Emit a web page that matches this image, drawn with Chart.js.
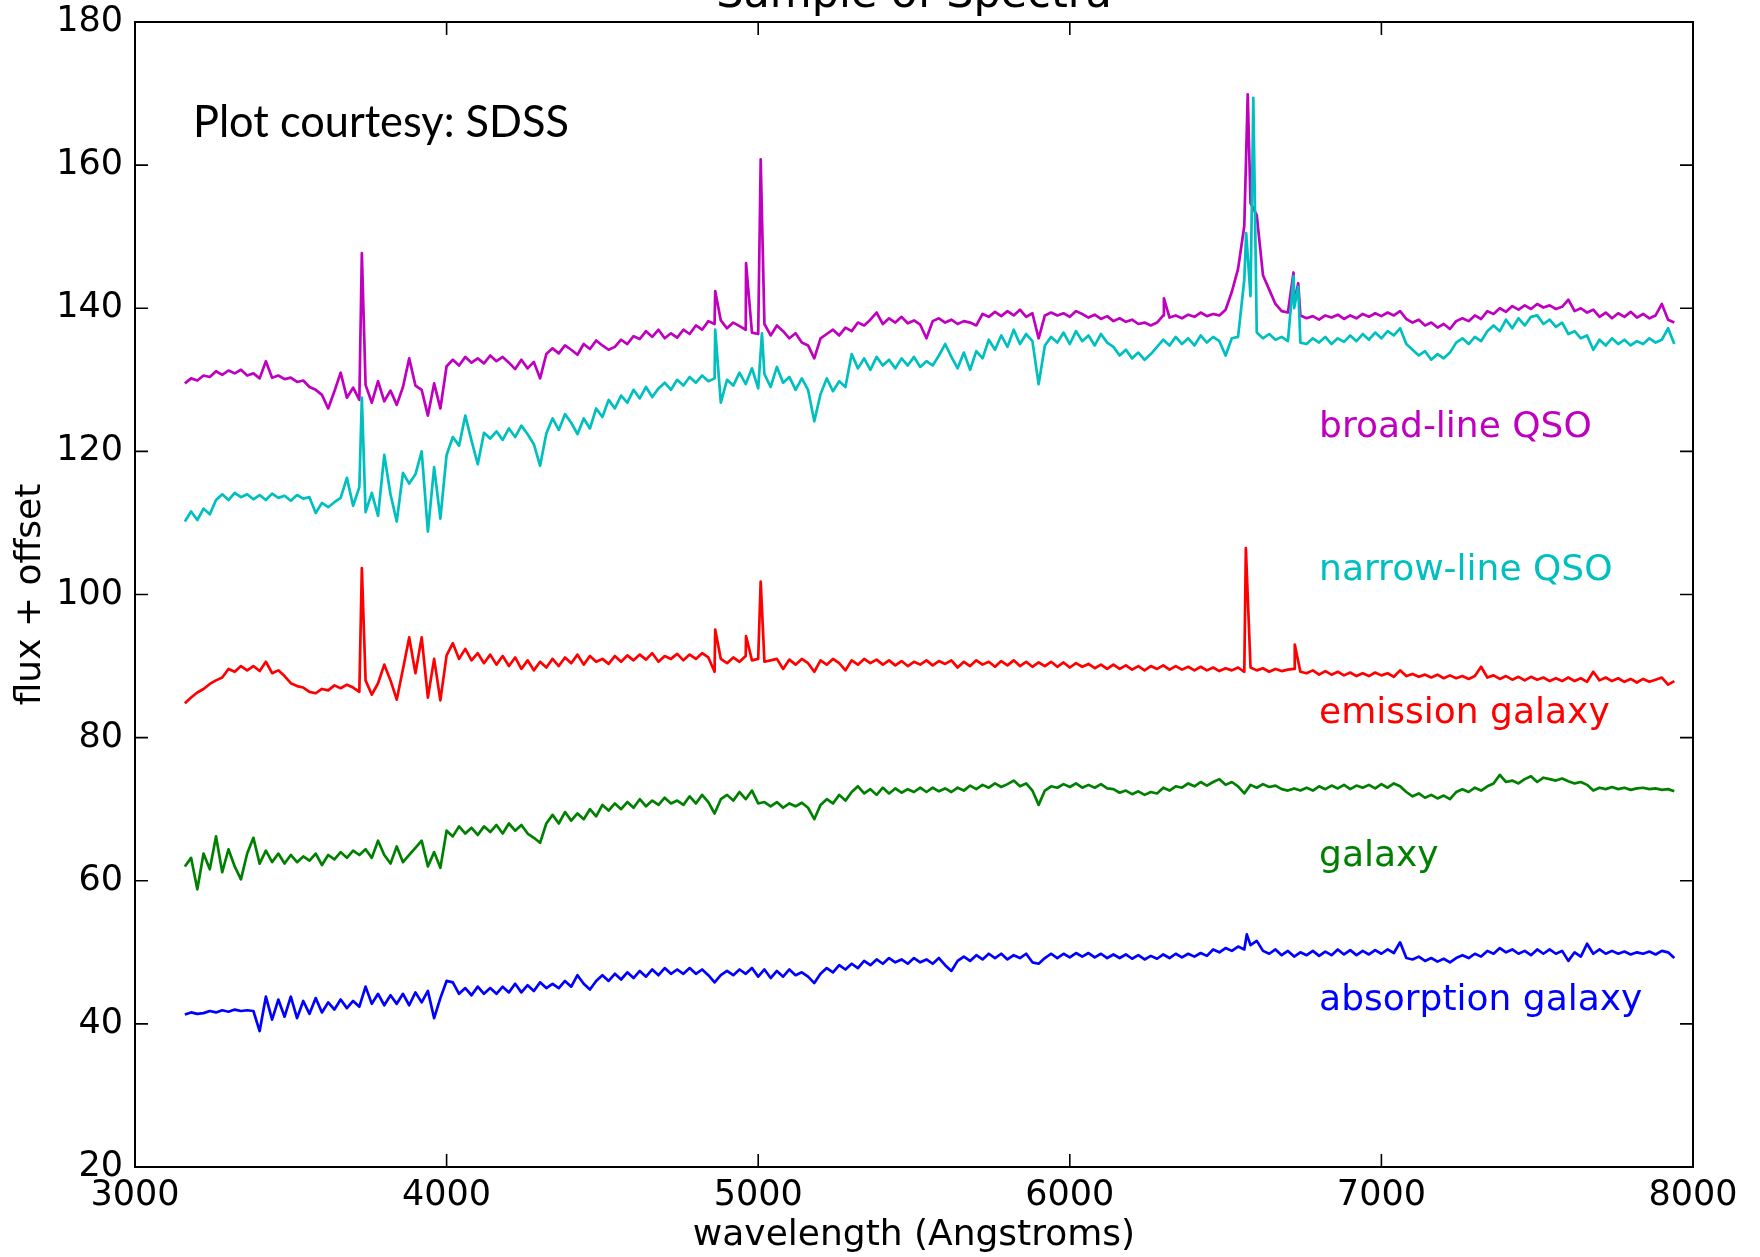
<!DOCTYPE html>
<html>
<head>
<meta charset="utf-8">
<script src="https://cdn.jsdelivr.net/npm/chart.js"></script>
<style>
  html, body { margin: 0; padding: 0; background: #fff; }
</style>
</head>
<body>
<canvas id="myChart" width="1760" height="1257"></canvas>
<script>
// wavelength sampling of the spectra (Angstroms), 3160 .. 7940 every 20
var waveStart = 3160, waveStep = 20, waveCount = 240;
var waves = [];
for (var i = 0; i < waveCount; i++) { waves.push(waveStart + i * waveStep); }

var xTicks = [3000, 4000, 5000, 6000, 7000, 8000];
var yTicks = [20, 40, 60, 80, 100, 120, 140, 160, 180];

var seriesNames = ['broad-line QSO', 'narrow-line QSO', 'emission galaxy', 'galaxy', 'absorption galaxy'];
var seriesColors = ['#bf00bf', '#00bfbf', '#ff0000', '#008000', '#0000ff'];
var labelY = [122, 102, 82, 62, 42];
var labelX = 6800;

// flux + offset, one row = 200 Angstroms
var broadQSO = [
  129.5,130.2,129.9,130.6,130.4,131.2,130.7,131.3,130.9,131.4,
  130.6,130.9,130.2,132.6,130.3,130.6,130.1,130.3,129.7,129.9,
  129.0,128.6,127.9,126.0,128.4,131.0,127.5,128.9,127.2,129.3,
  126.8,129.8,127.0,128.5,126.5,129.0,133.0,129.2,128.6,125.0,
  129.5,126.0,131.9,132.8,132.0,133.2,132.4,133.0,132.3,133.4,
  132.6,133.2,132.4,131.5,132.8,131.6,132.5,130.2,133.6,134.4,
  133.7,134.8,134.2,133.5,135.0,134.3,135.5,134.8,134.2,134.6,
  135.6,135.0,136.1,135.7,136.8,136.0,137.0,135.8,136.5,135.9,
  137.0,136.4,137.6,137.0,138.2,137.8,138.3,137.2,138.0,137.5,
  137.0,136.6,136.4,137.8,136.2,137.6,136.8,135.8,136.5,135.2,
  134.8,133.0,135.8,136.4,137.0,136.2,137.3,136.8,138.0,137.6,
  138.4,139.4,137.8,138.6,138.0,138.8,137.9,138.3,137.7,135.8,
  138.2,138.6,138.0,138.4,137.8,138.2,138.0,137.6,139.2,138.8,
  139.5,138.9,139.6,139.0,139.8,138.8,139.3,135.8,139.0,139.4,
  139.0,139.3,138.8,139.6,139.2,138.7,139.1,138.5,138.9,138.2,
  138.6,138.1,138.4,137.8,138.0,137.6,138.0,139.0,138.7,139.0,
  138.6,139.1,138.8,139.4,138.9,139.2,139.0,139.8,142.3,145.5,
  151.5,154.7,153.0,144.6,142.6,140.6,139.6,139.4,140.5,139.0,
  138.6,138.9,138.4,139.0,138.7,139.1,138.5,139.0,138.6,139.2,
  138.8,139.3,138.9,139.4,139.0,139.6,138.5,138.0,138.4,137.6,
  138.0,137.3,137.8,137.1,138.2,138.6,138.2,139.0,138.5,139.6,
  139.2,140.0,139.5,140.3,139.8,140.4,139.9,140.6,140.1,140.4,
  139.9,140.2,141.2,139.6,140.0,139.4,139.8,138.8,139.4,138.6,
  139.3,138.8,139.5,138.7,139.2,138.6,139.0,140.6,138.4,138.0
];
var narrowQSO = [
  110.2,111.6,110.4,112.0,111.2,113.2,114.0,113.2,114.2,113.6,
  114.0,113.3,113.9,113.2,114.1,113.5,113.8,113.1,113.9,113.4,
  113.6,111.4,112.8,112.2,112.9,113.5,116.3,112.4,115.0,111.5,
  114.2,111.0,119.5,114.0,110.2,117.0,115.5,116.8,120.0,108.8,
  117.8,110.6,119.5,122.0,120.8,125.0,121.5,118.2,122.6,121.8,
  122.8,121.6,123.2,122.0,123.6,122.4,121.0,118.0,122.5,124.6,
  123.0,125.2,124.0,122.4,124.6,123.2,126.0,124.8,127.2,126.0,
  127.8,126.8,128.6,127.4,129.0,127.6,128.8,129.6,128.6,130.0,
  129.2,130.4,129.6,130.6,129.8,130.2,126.8,130.0,129.2,131.0,
  129.4,131.6,128.8,130.8,129.0,131.8,129.6,130.4,128.6,130.2,
  128.6,124.2,128.0,130.2,128.4,129.8,129.0,133.6,131.6,133.0,
  131.4,133.2,132.0,132.8,131.6,133.0,132.0,133.2,131.8,132.6,
  132.0,133.4,135.0,133.2,131.6,133.8,131.4,134.0,133.0,135.6,
  134.2,136.2,134.6,137.0,135.0,136.4,135.4,129.4,134.8,136.0,
  135.2,136.6,135.0,136.8,135.4,136.2,134.8,136.4,135.2,134.6,
  133.4,134.2,133.0,133.8,132.8,133.6,134.6,135.6,134.8,136.0,
  135.0,135.8,134.8,136.2,135.2,136.0,135.4,133.4,135.8,136.0,
  144.0,141.7,136.6,135.8,136.4,135.6,136.0,135.4,140.0,135.2,
  135.0,135.8,135.2,136.0,135.0,135.8,135.3,136.2,135.4,136.4,
  135.6,136.6,135.8,136.8,136.2,137.2,135.0,134.2,133.4,134.0,
  132.8,133.6,133.0,133.8,135.2,135.8,135.0,136.0,135.4,136.8,
  137.6,136.8,138.4,137.2,138.6,137.6,138.8,139.0,137.8,138.4,
  137.4,138.0,136.4,136.8,135.8,136.2,134.2,135.6,134.8,135.8,
  135.0,135.6,134.8,135.4,135.0,135.8,135.2,135.6,137.2,135.0
];
var emissionGal = [
  84.8,85.6,86.3,86.8,87.5,88.0,88.4,89.6,89.2,90.0,
  89.4,90.0,89.3,90.6,89.0,89.4,88.6,87.6,87.2,87.0,
  86.4,86.2,86.8,86.6,87.3,86.9,87.4,87.0,86.4,88.0,
  86.0,87.6,90.2,88.0,85.3,89.6,94.0,89.0,94.0,85.6,
  91.0,85.2,91.5,93.2,91.0,92.4,90.8,91.8,90.4,91.6,
  90.2,91.4,90.0,91.2,89.6,90.8,89.4,90.6,89.8,91.0,
  90.0,91.2,90.4,91.6,90.2,91.4,90.6,91.0,90.3,91.4,
  90.6,91.5,90.8,91.6,90.9,91.8,90.6,91.4,91.0,91.7,
  90.8,91.6,91.0,91.8,91.2,89.2,91.0,90.4,91.2,90.6,
  91.4,90.8,91.0,90.6,90.8,91.0,89.6,90.9,90.2,91.0,
  90.4,89.2,90.8,90.2,91.0,90.4,89.4,90.8,90.2,91.0,
  90.4,90.9,90.2,90.8,90.1,90.7,90.0,90.6,90.2,90.8,
  90.1,90.7,90.3,90.8,89.8,90.6,90.0,90.8,90.2,90.6,
  89.9,90.7,90.1,90.8,90.0,90.6,89.9,90.5,90.0,90.6,
  89.9,90.5,89.8,90.4,89.9,90.3,89.7,90.2,89.6,90.2,
  89.6,90.1,89.5,90.0,89.4,90.0,89.6,90.1,89.5,90.0,
  89.5,89.9,89.4,89.9,89.4,89.8,89.3,89.7,89.4,89.8,
  89.2,89.8,89.4,89.7,89.2,89.6,89.3,89.5,89.6,89.2,
  89.0,89.4,88.8,89.3,88.8,89.2,88.7,89.1,88.6,89.0,
  88.6,89.1,88.7,89.0,88.5,89.4,88.6,88.9,88.5,88.8,
  88.4,88.8,88.3,88.7,88.3,88.6,88.2,88.6,89.9,88.4,
  88.7,88.2,88.6,88.1,88.5,88.0,88.5,88.1,88.4,87.9,
  88.3,87.9,88.4,87.9,88.3,87.8,89.2,88.0,88.4,87.9,
  88.3,87.8,88.2,87.7,88.2,87.8,88.1,88.4,87.4,87.9
];
var galaxy = [
  62.0,63.2,58.8,63.8,61.6,66.2,61.2,64.4,62.0,60.2,
  63.8,66.0,62.4,64.2,62.6,63.8,62.4,63.6,62.6,63.4,
  62.8,63.8,62.2,63.6,63.0,64.0,63.2,64.2,63.6,64.4,
  63.2,65.6,63.6,62.4,64.8,62.6,63.6,64.6,65.6,62.0,
  64.0,61.8,67.0,66.2,67.6,66.6,67.4,66.4,67.6,66.8,
  67.8,66.6,68.0,67.0,67.8,66.6,66.0,65.3,68.0,69.2,
  68.0,69.6,68.4,69.4,68.6,70.0,69.0,70.6,69.8,70.8,
  70.0,71.0,70.2,71.4,70.4,71.2,70.6,71.6,70.8,71.2,
  70.6,71.8,70.8,72.0,71.0,69.4,71.4,72.0,71.2,72.4,
  71.4,72.6,70.8,71.0,70.4,71.0,70.2,70.8,70.4,70.9,
  70.2,68.6,70.6,71.4,70.8,72.0,71.2,72.4,73.2,72.2,
  72.8,72.0,73.0,72.2,72.9,72.3,72.8,72.4,73.0,72.4,
  73.0,72.5,72.9,72.4,73.0,72.6,73.3,72.8,73.4,73.0,
  73.6,73.1,73.5,74.0,73.2,73.6,72.6,70.6,72.6,73.2,
  73.0,73.5,73.1,73.6,73.0,73.4,73.0,73.5,72.9,72.8,
  72.3,72.6,72.1,72.5,72.0,72.4,72.2,73.0,72.6,73.2,
  73.0,73.6,73.2,73.8,73.3,73.8,74.2,73.4,73.8,73.2,
  72.2,73.4,73.0,73.5,73.1,73.3,72.8,72.6,72.9,72.6,
  73.0,72.6,73.2,72.8,73.3,72.9,73.4,72.8,73.3,73.0,
  73.4,72.9,73.5,73.0,73.6,73.2,72.4,71.8,72.2,71.6,
  72.0,71.5,71.9,71.4,72.4,72.8,72.4,73.0,72.6,73.2,
  73.6,74.8,73.8,74.0,73.6,74.2,74.6,73.8,74.4,74.2,
  74.0,74.3,73.9,73.6,73.8,73.4,72.6,73.0,72.8,73.1,
  72.8,73.0,72.7,72.9,73.0,72.8,72.9,72.7,72.8,72.5
];
var absorptionGal = [
  41.3,41.6,41.4,41.5,41.8,41.6,41.9,41.7,42.0,41.8,
  41.9,41.8,39.0,43.8,40.6,43.4,41.0,43.8,40.8,43.2,
  41.4,43.6,41.6,43.0,42.0,43.4,42.2,43.2,42.4,45.2,
  42.8,44.2,42.6,44.0,42.8,44.2,42.6,44.4,43.0,44.6,
  40.8,43.6,46.0,45.8,44.2,45.0,44.0,45.2,44.2,45.0,
  44.2,45.2,44.4,45.6,44.4,45.4,44.6,45.8,45.0,45.6,
  45.0,46.0,45.2,46.8,45.6,44.8,46.0,46.8,46.0,47.0,
  46.2,47.2,46.4,47.4,46.6,47.6,46.8,47.8,47.0,47.6,
  47.0,47.8,47.0,47.6,46.8,45.8,46.8,47.4,46.8,47.6,
  47.0,47.8,46.6,47.6,46.4,47.4,46.6,47.6,46.8,47.2,
  46.6,45.7,47.0,47.8,47.2,48.2,47.6,48.4,47.8,48.8,
  48.2,49.0,48.4,49.2,48.6,49.0,48.4,49.2,48.6,49.0,
  48.4,49.2,48.2,47.4,48.8,49.4,48.8,49.6,49.0,49.8,
  49.2,49.8,49.0,49.6,49.2,49.8,48.6,48.4,49.2,49.8,
  49.2,49.8,49.3,49.9,49.4,49.9,49.3,49.8,49.2,49.7,
  49.2,49.7,49.1,49.6,49.0,49.5,49.1,49.7,49.2,49.8,
  49.3,49.8,49.4,49.9,49.5,50.4,50.0,50.6,50.2,50.8,
  50.4,51.0,51.6,50.2,49.8,50.4,49.6,50.2,49.4,50.0,
  49.6,50.2,49.5,50.1,49.6,50.4,49.7,50.3,49.6,50.2,
  49.7,50.3,49.8,50.4,49.9,51.4,49.2,49.0,49.4,48.8,
  49.2,48.7,49.1,48.6,49.2,49.6,49.2,49.8,49.4,50.2,
  49.8,50.6,50.0,50.4,49.8,50.2,49.6,50.4,49.8,50.4,
  49.8,50.2,48.8,50.0,49.4,51.2,49.8,50.4,49.8,50.2,
  49.8,50.1,49.7,50.0,49.8,50.1,49.7,50.2,50.0,49.2
];

// narrow emission lines: [wavelength, peak value]
var broadQSOLines = [[3728,147.7],[4862,142.4],[4961,146.3],[5008,160.8],[6302,141.4],[6571,169.9],[6718,145.0],[6733,143.5]];
var narrowQSOLines = [[3728,127.5],[4862,137.0],[5012,136.5],[6566,150.5],[6589,169.4],[6718,144.5],[6733,143.0]];
var emissionGalLines = [[3728,103.7],[4862,95.1],[4961,94.2],[5008,101.8],[6565,106.5],[6722,93.0]];
var galaxyLines = [];
var absorptionGalLines = [[6568,52.5]];

function buildSeries(vals, lines) {
  var pts = waves.map(function (w, i) { return { x: w, y: vals[i] }; });
  lines.forEach(function (l) { pts.push({ x: l[0], y: l[1] }); });
  pts.sort(function (a, b) { return a.x - b.x; });
  return pts;
}

var allValues = [broadQSO, narrowQSO, emissionGal, galaxy, absorptionGal];
var allLines = [broadQSOLines, narrowQSOLines, emissionGalLines, galaxyLines, absorptionGalLines];

var datasets = allValues.map(function (vals, k) {
  return {
    label: seriesNames[k],
    data: buildSeries(vals, allLines[k]),
    borderColor: seriesColors[k],
    borderWidth: 2.7,
    borderJoinStyle: 'round',
    pointRadius: 0,
    fill: false,
    tension: 0,
    order: 4 - k
  };
});

// frame, inward ticks and the text inside / above the axes
var decorPlugin = {
  id: 'decor',
  afterDatasetsDraw: function (chart) {
    var ctx = chart.ctx, a = chart.chartArea;
    var xs = chart.scales.x, ys = chart.scales.y;
    ctx.save();
    ctx.strokeStyle = '#000';
    ctx.lineWidth = 1.6;
    ctx.beginPath();
    xTicks.forEach(function (v) {
      var p = xs.getPixelForValue(v);
      ctx.moveTo(p, a.bottom); ctx.lineTo(p, a.bottom - 13);
      ctx.moveTo(p, a.top); ctx.lineTo(p, a.top + 13);
    });
    yTicks.forEach(function (v) {
      var p = ys.getPixelForValue(v);
      ctx.moveTo(a.left, p); ctx.lineTo(a.left + 13, p);
      ctx.moveTo(a.right, p); ctx.lineTo(a.right - 13, p);
    });
    ctx.stroke();
    ctx.lineWidth = 2;
    ctx.strokeRect(a.left, a.top, a.right - a.left, a.bottom - a.top);

    ctx.textBaseline = 'alphabetic';
    ctx.font = '36px "DejaVu Sans"';
    ctx.textAlign = 'left';
    seriesNames.forEach(function (name, k) {
      ctx.fillStyle = seriesColors[k];
      ctx.fillText(name, xs.getPixelForValue(labelX), ys.getPixelForValue(labelY[k]));
    });

    ctx.fillStyle = '#000';
    ctx.font = '44px Lato';
    ctx.fillText('Plot courtesy: SDSS', 193, 137, 376);

    ctx.font = '43px "DejaVu Sans"';
    ctx.textAlign = 'center';
    ctx.fillText('Sample of Spectra', (a.left + a.right) / 2, 7);
    ctx.restore();
  }
};

Chart.defaults.font.family = '"DejaVu Sans"';
Chart.defaults.color = '#000';

var ctx = document.getElementById('myChart').getContext('2d');
var chart = new Chart(ctx, {
  type: 'line',
  data: { datasets: datasets },
  options: {
    responsive: false,
    animation: false,
    devicePixelRatio: 1,
    layout: { padding: { left: 0, right: 67, top: 22, bottom: 0 } },
    plugins: {
      legend: { display: false },
      tooltip: { enabled: false }
    },
    scales: {
      x: {
        type: 'linear',
        min: 3000,
        max: 8000,
        afterFit: function (s) { s.height = 90; s.paddingLeft = 0; s.paddingRight = 0; },
        afterBuildTicks: function (s) { s.ticks = xTicks.map(function (v) { return { value: v }; }); },
        grid: { display: false, drawTicks: false },
        border: { display: false },
        ticks: { font: { size: 35 }, padding: 8, maxRotation: 0, autoSkip: false,
                 callback: function (v) { return String(v); } },
        title: { display: true, text: 'wavelength (Angstroms)', font: { size: 36 }, padding: { top: 0, bottom: 0 } }
      },
      y: {
        type: 'linear',
        min: 20,
        max: 180,
        afterFit: function (s) { s.width = 135; s.paddingTop = 0; s.paddingBottom = 0; },
        afterBuildTicks: function (s) { s.ticks = yTicks.map(function (v) { return { value: v }; }); },
        grid: { display: false, drawTicks: false },
        border: { display: false },
        ticks: { font: { size: 35 }, padding: 12, autoSkip: false,
                 callback: function (v) { return String(v); } },
        title: { display: true, text: 'flux + offset', font: { size: 36 }, padding: { top: 9, bottom: 0 } }
      }
    }
  },
  plugins: [decorPlugin]
});
</script>
</body>
</html>
